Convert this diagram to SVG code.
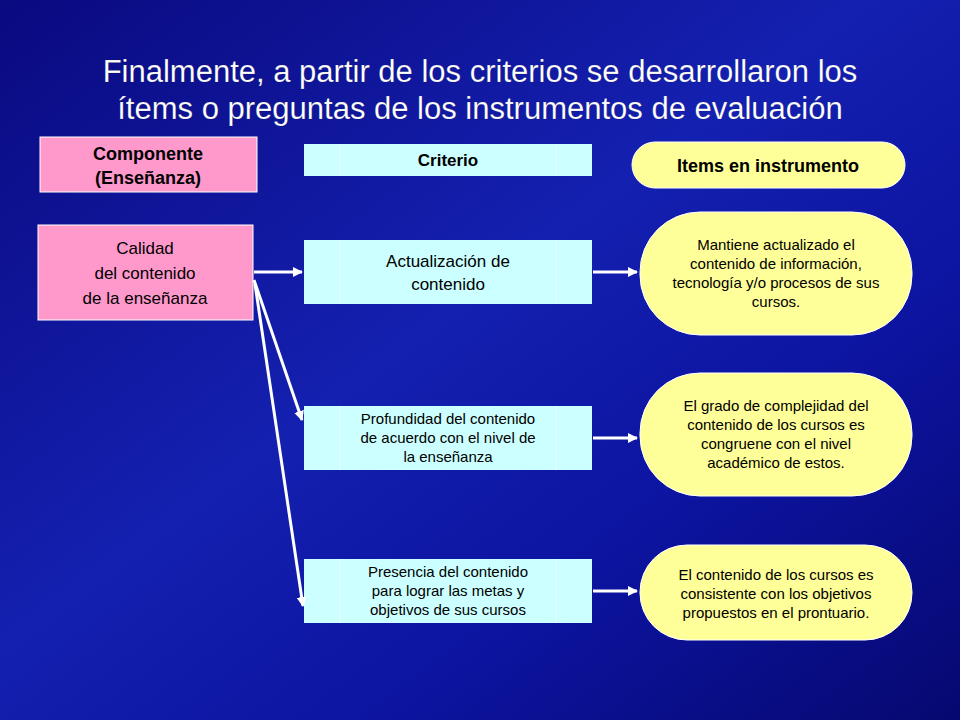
<svg xmlns="http://www.w3.org/2000/svg" width="960" height="720" viewBox="0 0 960 720">
<defs>
<linearGradient id="bg" x1="0" y1="0" x2="1" y2="1">
<stop offset="0" stop-color="#0a0a80"/><stop offset="0.45" stop-color="#1420b0"/><stop offset="0.7" stop-color="#0c14a0"/><stop offset="1" stop-color="#060870"/>
</linearGradient>
<marker id="ah" markerWidth="10" markerHeight="10" refX="9" refY="5" orient="auto" markerUnits="userSpaceOnUse" viewBox="0 0 10 10"><path d="M0,0 L10,5 L0,10 z" fill="#fff"/></marker>
<style>
.pink{fill:#ff99cc;stroke:#fff;stroke-width:1}
.cyan{fill:#ccffff;stroke:none}
.div{stroke:#e6ffff;stroke-width:1}
.yel{fill:#ffff99;stroke:#fff;stroke-width:1}
.t{font-family:"Liberation Sans",Arial,sans-serif;fill:#000;text-anchor:middle}
.title{font-family:"Liberation Sans",Arial,sans-serif;fill:#fff;font-size:31px;text-anchor:middle;stroke:#000;stroke-opacity:0.25;stroke-width:0.5}
.con{stroke:#fff;stroke-width:3;fill:none;marker-end:url(#ah)}
</style>
</defs>
<rect width="960" height="720" fill="url(#bg)"/>
<text class="title" x="480" y="82">Finalmente, a partir de los criterios se desarrollaron los</text>
<text class="title" x="480" y="119">ítems o preguntas de los instrumentos de evaluación</text>
<g id="componente"><rect class="pink" x="40" y="137" width="217" height="55"/>
<text class="t" x="148" y="160" font-size="18" font-weight="bold">Componente</text><text class="t" x="148" y="184" font-size="18" font-weight="bold">(Enseñanza)</text></g>
<g id="criterio"><rect class="cyan" x="304" y="144" width="288" height="32"/><line class="div" x1="340" y1="144" x2="340" y2="176"/><line class="div" x1="556" y1="144" x2="556" y2="176"/>
<text class="t" x="448" y="166" font-size="17" font-weight="bold">Criterio</text></g>
<g id="items"><rect class="yel" x="632" y="142" width="273" height="46" rx="23"/>
<text class="t" x="768" y="172" font-size="18" font-weight="bold">Items en instrumento</text></g>
<g id="calidad"><rect class="pink" x="38" y="225" width="215" height="95"/>
<text class="t" x="145" y="254" font-size="17">Calidad</text><text class="t" x="145" y="279" font-size="17">del contenido</text><text class="t" x="145" y="304" font-size="17">de la enseñanza</text></g>
<g id="actualizacion"><rect class="cyan" x="304" y="240" width="288" height="64"/><line class="div" x1="340" y1="240" x2="340" y2="304"/><line class="div" x1="556" y1="240" x2="556" y2="304"/>
<text class="t" x="448" y="267" font-size="17">Actualización de</text><text class="t" x="448" y="290" font-size="17">contenido</text></g>
<g id="profundidad"><rect class="cyan" x="304" y="406" width="288" height="64"/><line class="div" x1="340" y1="406" x2="340" y2="470"/><line class="div" x1="556" y1="406" x2="556" y2="470"/>
<text class="t" x="448" y="424" font-size="15">Profundidad del contenido</text><text class="t" x="448" y="443" font-size="15">de acuerdo con el nivel de</text><text class="t" x="448" y="462" font-size="15">la enseñanza</text></g>
<g id="presencia"><rect class="cyan" x="304" y="559" width="288" height="64"/><line class="div" x1="340" y1="559" x2="340" y2="623"/><line class="div" x1="556" y1="559" x2="556" y2="623"/>
<text class="t" x="448" y="577" font-size="15">Presencia del contenido</text><text class="t" x="448" y="596" font-size="15">para lograr las metas y</text><text class="t" x="448" y="615" font-size="15">objetivos de sus cursos</text></g>
<g id="item1"><rect class="yel" x="640" y="212" width="272" height="123" rx="60"/>
<text class="t" x="776" y="250" font-size="15">Mantiene actualizado el</text><text class="t" x="776" y="269" font-size="15">contenido de información,</text><text class="t" x="776" y="288" font-size="15">tecnología y/o procesos de sus</text><text class="t" x="776" y="307" font-size="15">cursos.</text></g>
<g id="item2"><rect class="yel" x="640" y="373" width="272" height="123" rx="60"/>
<text class="t" x="776" y="411" font-size="15">El grado de complejidad del</text><text class="t" x="776" y="430" font-size="15">contenido de los cursos es</text><text class="t" x="776" y="449" font-size="15">congruene con el nivel</text><text class="t" x="776" y="468" font-size="15">académico de estos.</text></g>
<g id="item3"><rect class="yel" x="640" y="545" width="272" height="95" rx="47"/>
<text class="t" x="776" y="580" font-size="15">El contenido de los cursos es</text><text class="t" x="776" y="599" font-size="15">consistente con los objetivos</text><text class="t" x="776" y="618" font-size="15">propuestos en el prontuario.</text></g>
<g id="connectors">
<line class="con" x1="254" y1="272" x2="302" y2="272"/>
<line class="con" x1="254" y1="280" x2="302" y2="420"/>
<line class="con" x1="255" y1="284" x2="303" y2="606"/>
<line class="con" x1="593" y1="272" x2="637" y2="272"/>
<line class="con" x1="593" y1="438" x2="637" y2="438"/>
<line class="con" x1="593" y1="591" x2="637" y2="591"/>
</g>
</svg>
